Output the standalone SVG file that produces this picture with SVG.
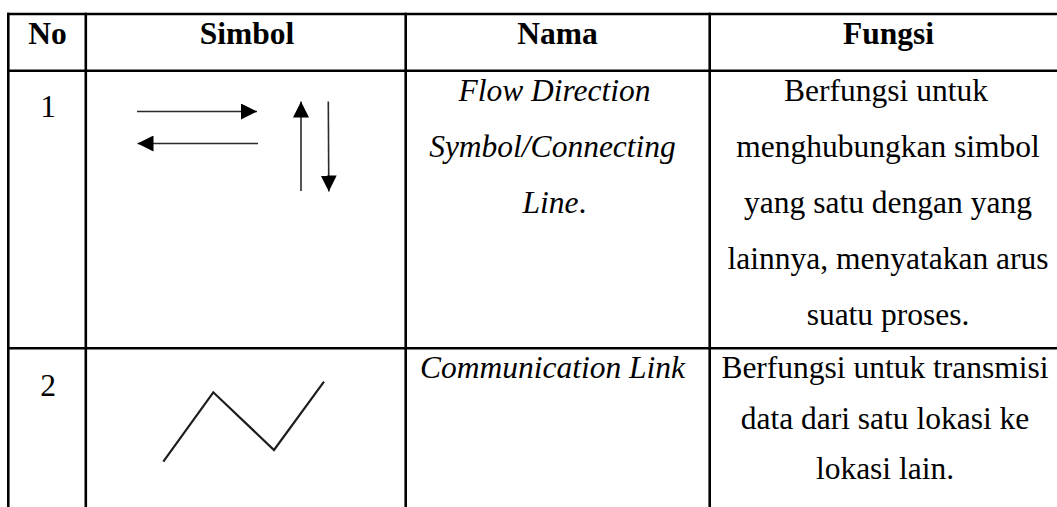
<svg xmlns="http://www.w3.org/2000/svg" width="1057" height="507" viewBox="0 0 1057 507">
  <style>
    .grid { stroke: #000; stroke-width: 2.6; fill: none; }
    .t { font-family: "Liberation Serif", "Times New Roman", serif; font-size: 31.5px; fill: #000; text-anchor: middle; }
    .h { font-weight: bold; }
    .i { font-style: italic; }
    .ln { stroke: #2a2a2a; stroke-width: 1.6; fill: none; }
    .zz { stroke: #1e1e1e; stroke-width: 2.2; fill: none; stroke-linejoin: miter; }
  </style>
  <defs>
    <marker id="head" viewBox="0 0 16 16" refX="16" refY="8" markerWidth="16" markerHeight="16" markerUnits="userSpaceOnUse" orient="auto">
      <path d="M0,0 L16,8 L0,16 Z" fill="#000"/>
    </marker>
  </defs>
  <rect width="1057" height="507" fill="#fff"/>

  <!-- table rules -->
  <g id="table-grid">
    <line class="grid" x1="7" y1="14" x2="1057" y2="14"/>
    <line class="grid" x1="7" y1="70.8" x2="1057" y2="70.8"/>
    <line class="grid" x1="7" y1="348.3" x2="1057" y2="348.3"/>
    <line class="grid" x1="8.3" y1="12.7" x2="8.3" y2="507"/>
    <line class="grid" x1="85.8" y1="12.7" x2="85.8" y2="507"/>
    <line class="grid" x1="405.7" y1="12.7" x2="405.7" y2="507"/>
    <line class="grid" x1="709.7" y1="12.7" x2="709.7" y2="507"/>
  </g>

  <!-- header row -->
  <g id="header">
    <text class="t h" x="47.5" y="44">No</text>
    <text class="t h" x="247" y="44">Simbol</text>
    <text class="t h" x="557.5" y="44">Nama</text>
    <text class="t h" x="888.5" y="44">Fungsi</text>
  </g>

  <!-- row 1: flow direction -->
  <g id="row1">
    <text class="t" x="48" y="117">1</text>
    <g id="flow-arrows">
      <line class="ln" x1="137" y1="111.5" x2="257" y2="111.5" marker-end="url(#head)"/>
      <line class="ln" x1="258" y1="143.5" x2="137.5" y2="143.5" marker-end="url(#head)"/>
      <line class="ln" x1="301" y1="191" x2="301" y2="101.5" marker-end="url(#head)"/>
      <line class="ln" x1="328.3" y1="101.5" x2="328.8" y2="191.5" marker-end="url(#head)"/>
    </g>
    <text class="t i" x="554.5" y="101">Flow Direction</text>
    <text class="t i" x="552.5" y="157">Symbol/Connecting</text>
    <text class="t" x="554.5" y="213"><tspan class="i">Line</tspan>.</text>
    <text class="t" x="886" y="101">Berfungsi untuk</text>
    <text class="t" x="888" y="157">menghubungkan simbol</text>
    <text class="t" x="888" y="213">yang satu dengan yang</text>
    <text class="t" x="888" y="269">lainnya, menyatakan arus</text>
    <text class="t" x="888" y="325">suatu proses.</text>
  </g>

  <!-- row 2: communication link -->
  <g id="row2">
    <text class="t" x="48" y="396">2</text>
    <polyline id="comm-link" class="zz" points="163.3,461.7 213.3,392.3 274,450 324,381.7"/>
    <text class="t i" x="552.5" y="378">Communication Link</text>
    <text class="t" x="885" y="378">Berfungsi untuk transmisi</text>
    <text class="t" x="885" y="428.5">data dari satu lokasi ke</text>
    <text class="t" x="885" y="478.5">lokasi lain.</text>
  </g>
</svg>
